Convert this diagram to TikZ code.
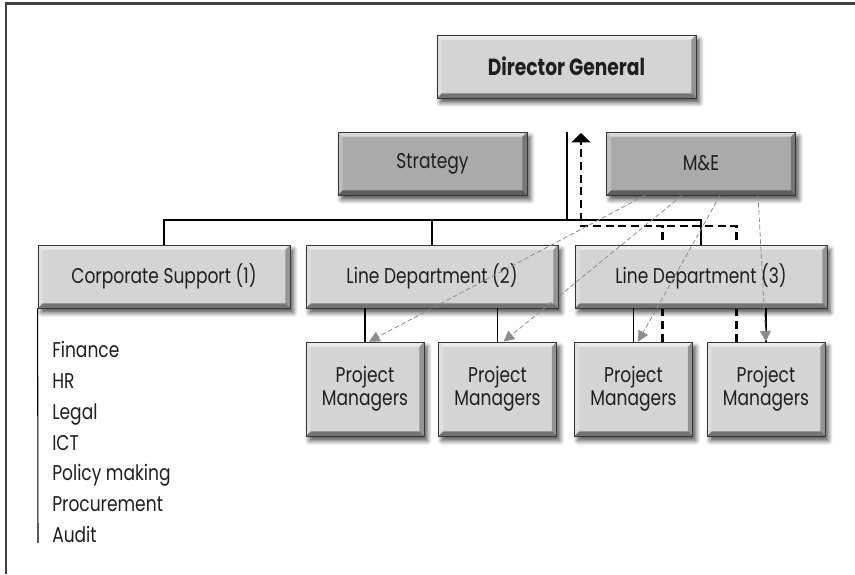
\documentclass[tikz,border=0pt]{standalone}
\usepackage{fontspec}
\setmainfont{Poppins}[FakeStretch=0.8]
\usetikzlibrary{positioning,arrows.meta,shadows.blur,backgrounds}
\definecolor{lg}{RGB}{212,212,212}
\definecolor{dg}{RGB}{170,170,170}
\definecolor{rim}{RGB}{55,55,55}
\newcommand\bevelw{3.5pt}
\tikzset{>=Triangle}

\begin{document}
\begin{tikzpicture}[x=0.75pt,y=-0.75pt]
        \fontsize{16}{17.5}\selectfont
        \tikzset{
        box/.style={rectangle, draw=rim, line width=.6pt, fill=lg, inner sep=0pt, align=center, text=black!88,
          blur shadow={shadow xshift=2.5pt, shadow yshift=-3.5pt, shadow blur steps=6, shadow opacity=70},
          path picture={
            \fill[white,opacity=.55] (path picture bounding box.north west) -- (path picture bounding box.north east)
              -- ([shift={(-\bevelw,-\bevelw)}]path picture bounding box.north east) -- ([shift={(\bevelw,-\bevelw)}]path picture bounding box.north west) -- cycle;
            \fill[white,opacity=.25] (path picture bounding box.north west) -- (path picture bounding box.south west)
              -- ([shift={(\bevelw,\bevelw)}]path picture bounding box.south west) -- ([shift={(\bevelw,-\bevelw)}]path picture bounding box.north west) -- cycle;
            \fill[black,opacity=.3] (path picture bounding box.north east) -- (path picture bounding box.south east)
              -- ([shift={(-\bevelw,\bevelw)}]path picture bounding box.south east) -- ([shift={(-\bevelw,-\bevelw)}]path picture bounding box.north east) -- cycle;
            \fill[black,opacity=.45] (path picture bounding box.south west) -- (path picture bounding box.south east)
              -- ([shift={(-\bevelw,\bevelw)}]path picture bounding box.south east) -- ([shift={(\bevelw,\bevelw)}]path picture bounding box.south west) -- cycle;
          }},
        topbox/.style={box, minimum width=194.25pt, minimum height=47.25pt, font=\fontsize{17.5}{20}\selectfont\bfseries},
        staffbox/.style={box, fill=dg, minimum width=141.75pt, minimum height=47.25pt},
        deptbox/.style={box, minimum width=189pt, minimum height=47.25pt},
        pmbox/.style={box, minimum width=88.5pt, minimum height=70.5pt},
        listitem/.style={anchor=base west, inner sep=0pt, text=black!88},
        mearrow/.style={draw=black!45, line width=.6pt, dash pattern=on 3.5pt off 2pt, -{Triangle[width=8pt,length=8pt]}, black!45},
        report/.style={line width=2.2pt, dash pattern=on 6pt off 3.5pt},
        }

        % Frame.
        \useasboundingbox (0,0) rectangle (855,574);
        \draw [line width=1.6pt,black!75] (6,574) -- (6,3.5) -- (855,3.5);

        % Boxes.
        \path (566.5,66.5) node[topbox]   (dg)  {Director General};
        \path (432.5,163.5) node[staffbox] (str) {Strategy};
        \path (701,163.5)   node[staffbox] (me)  {M\&E};
        \path (164,276.5)   node[deptbox]  (cs)  {Corporate Support (1)};
        \path (432,276.5)   node[deptbox]  (ld2) {Line Department (2)};
        \path (701,276.5)   node[deptbox]  (ld3) {Line Department (3)};
        \path (365,389)     node[pmbox]    (pm1) {Project\\Managers};
        \path (497.5,389)   node[pmbox]    (pm2) {Project\\Managers};
        \path (633.5,389)   node[pmbox]    (pm3) {Project\\Managers};
        \path (766,389)     node[pmbox]    (pm4) {Project\\Managers};

        \coordinate (top)  at (567,132);
        \coordinate (bus)  at (0,220);
        \coordinate (loop) at (581,226);
        \coordinate (rep)  at (581,133);
        \coordinate (listend) at (38,543);

        % Tree lines.
        \draw [line width=.8pt] (top) -- (top |- bus);
        \draw [line width=.8pt] (cs.north) -- (cs.north |- bus) -- (ld3.north |- bus) -- (ld3.north);
        \draw [line width=.8pt] (ld2.north |- bus) -- (ld2.north);
        \draw [line width=.8pt] (pm1.north |- ld2.south) -- (pm1.north);
        \draw [line width=.8pt] (pm2.north |- ld2.south) -- (pm2.north);
        \draw [line width=.8pt] (pm3.north |- ld3.south) -- (pm3.north);
        \draw [line width=.8pt] (pm4.north |- ld3.south) -- (pm4.north);

        % Reporting lines (behind the boxes).
        \begin{scope}[on background layer]
        \draw [report,-{Triangle[width=14pt,length=7pt]}] ([xshift=22pt]pm3.north) |- (loop) -- (rep);
        \draw [report] ([xshift=-22pt]pm4.north) |- ([xshift=22pt]pm3.north |- loop);
        \end{scope}

        % M&E lines.
        \draw [mearrow] ([xshift=-42pt]me.south)    -- ([xshift=3pt]pm1.north);
        \draw [mearrow] ([xshift=-14.25pt]me.south) -- ([xshift=4.5pt]pm2.north);
        \draw [mearrow] ([xshift=14.25pt]me.south)  -- ([xshift=3.4pt]pm3.north);
        \draw [mearrow] ([xshift=42.75pt]me.south)  -- (pm4.north);

        % Corporate functions.
        \draw [line width=.8pt] (cs.south west) -- (listend);
        \foreach \entry [count=\i] in {Finance,HR,Legal,ICT,Policy making,Procurement,Audit}
          \path (52,{326.65+30.85*\i}) node[listitem] (item\i) {\entry};
\end{tikzpicture}
\end{document}
